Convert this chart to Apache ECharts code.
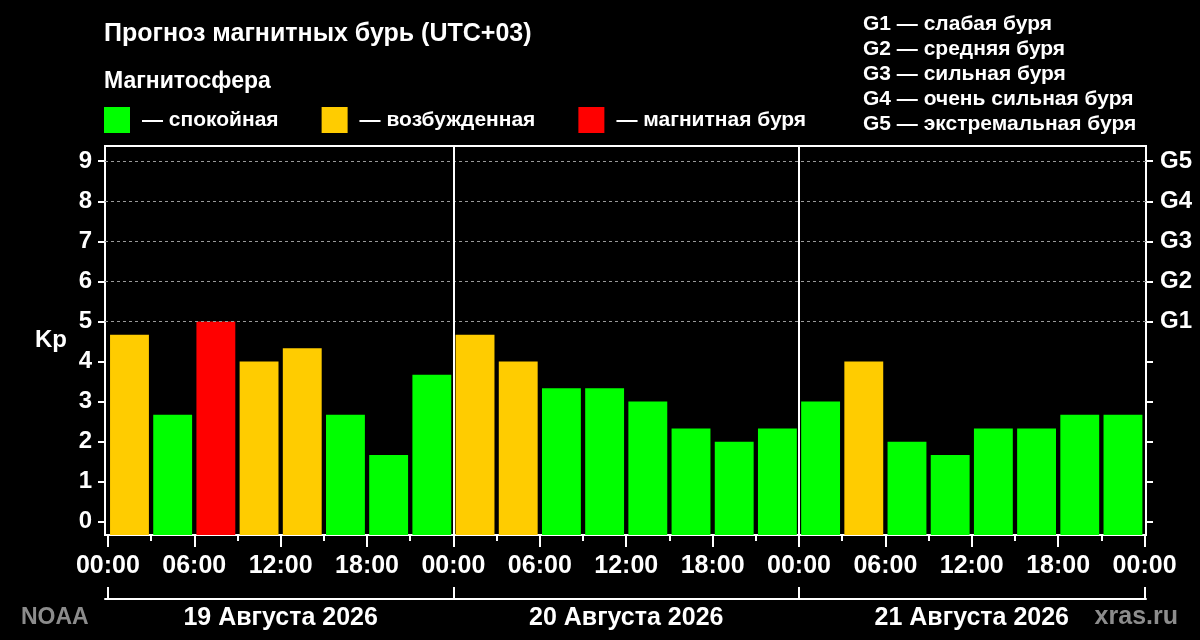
<!DOCTYPE html>
<html lang="ru">
<head>
<meta charset="utf-8">
<title>Прогноз магнитных бурь</title>
<script src="https://cdn.jsdelivr.net/npm/echarts@6/dist/echarts.min.js"></script>
<style>
* { margin: 0; padding: 0; }
body { background: #000; }
#chart-container { width: 1200px; height: 640px; }
</style>
</head>
<body>
<div id="chart-container"></div>
<script>
// Kp forecast, one value per 3-hour slot
var days = ['19 Августа 2026', '20 Августа 2026', '21 Августа 2026'];
var kpDay1 = [4.67, 2.67, 5, 4, 4.33, 2.67, 1.67, 3.67];
var kpDay2 = [4.67, 4, 3.33, 3.33, 3, 2.33, 2, 2.33];
var kpDay3 = [3, 4, 2, 1.67, 2.33, 2.33, 2.67, 2.67];

var levelNames = ['— спокойная', '— возбужденная', '— магнитная буря'];
var levelColors = ['#00ff00', '#ffcc00', '#ff0000'];
var stormNames = ['G1 — слабая буря', 'G2 — средняя буря', 'G3 — сильная буря',
                  'G4 — очень сильная буря', 'G5 — экстремальная буря'];

var kpTicks = [0, 1, 2, 3, 4, 5, 6, 7, 8, 9];
var stormKp = [5, 6, 7, 8, 9];
var hourTicks = [0, 6, 12, 18, 24, 30, 36, 42, 48, 54, 60, 66, 72];
var slotTicks = [0, 3, 6, 9, 12, 15, 18, 21, 24, 27, 30, 33, 36, 39, 42, 45, 48, 51, 54, 57, 60, 63, 66, 69, 72];
var dayBounds = [0, 24, 48, 72];
var dayMids = [12, 36, 60];

var Y_MIN = -0.33, Y_MAX = 9.38;
var X_MIN = -0.2, X_MAX = 72.1;
var FONT = "'Liberation Sans', Arial, sans-serif";

var allKp = kpDay1.concat(kpDay2, kpDay3);
function levelOf(kp) {
  return kp >= 5 ? 2 : (kp >= 4 ? 1 : 0);
}
var levelData = [[], [], []];
allKp.forEach(function (kp, i) {
  levelData[levelOf(kp)].push([i * 3, kp]);
});

function renderBar(params, api) {
  var start = api.value(0);
  var topLeft = api.coord([start + 0.15, api.value(1)]);
  var bottomRight = api.coord([start + 2.85, Y_MIN]);
  return {
    type: 'rect',
    shape: {
      x: topLeft[0], y: topLeft[1],
      width: bottomRight[0] - topLeft[0],
      height: bottomRight[1] - topLeft[1]
    },
    style: { fill: api.visual('color') }
  };
}

var series = levelNames.map(function (name, k) {
  return {
    type: 'custom',
    name: name,
    renderItem: renderBar,
    itemStyle: { color: levelColors[k] },
    encode: { x: 0, y: 1 },
    data: levelData[k],
    silent: true
  };
});

// dashed storm levels and day separators
series[0].markLine = {
  silent: true,
  symbol: 'none',
  label: { show: false },
  data: stormKp.map(function (v) {
    return { yAxis: v, lineStyle: { color: '#9a9a9a', type: [3, 3], width: 1 } };
  }).concat([24, 48].map(function (h) {
    return { xAxis: h, lineStyle: { color: '#fff', type: 'solid', width: 2 } };
  }))
};

function hourLabel(v) {
  var h = v % 24;
  return (h < 10 ? '0' : '') + h + ':00';
}

var labelStyle = { color: '#fff', fontFamily: FONT, fontWeight: 'bold', fontSize: 24 };
var bigLabel = { color: '#fff', fontFamily: FONT, fontWeight: 'bold', fontSize: 25 };
var whiteLine = { color: '#fff', width: 2 };

var myChart = echarts.init(document.getElementById('chart-container'));
myChart.setOption({
  backgroundColor: '#000',
  animation: false,
  grid: {
    left: 105, right: 54, top: 146, bottom: 105,
    show: true, borderColor: '#fff', borderWidth: 2
  },
  legend: {
    left: 104, top: 107, padding: 0,
    itemWidth: 26, itemHeight: 26, itemGap: 43,
    icon: 'rect',
    selectedMode: false,
    data: levelNames,
    textStyle: { color: '#fff', fontFamily: FONT, fontWeight: 'bold', fontSize: 21, padding: [1, 0, 0, 7] }
  },
  xAxis: [
    {
      type: 'value', min: X_MIN, max: X_MAX, position: 'bottom',
      axisLine: { show: true, onZero: false, lineStyle: whiteLine },
      axisTick: { show: true, customValues: slotTicks, length: 6, lineStyle: whiteLine },
      axisLabel: { show: false },
      splitLine: { show: false }
    },
    {
      type: 'value', min: X_MIN, max: X_MAX, position: 'bottom',
      axisLine: { show: false, onZero: false },
      axisTick: { show: true, customValues: hourTicks, length: 12, lineStyle: whiteLine },
      axisLabel: Object.assign({ customValues: hourTicks, formatter: hourLabel, margin: 19 }, bigLabel),
      splitLine: { show: false }
    },
    {
      type: 'value', min: X_MIN, max: X_MAX, position: 'bottom', offset: 64,
      axisLine: { show: true, onZero: false, lineStyle: whiteLine },
      axisTick: { show: true, inside: true, customValues: dayBounds, length: 12, lineStyle: whiteLine },
      axisLabel: Object.assign({
        customValues: dayMids,
        formatter: function (v) { return days[Math.round((v - 12) / 24)]; },
        margin: 7
      }, bigLabel),
      splitLine: { show: false }
    }
  ],
  yAxis: [
    {
      type: 'value', min: Y_MIN, max: Y_MAX, position: 'left',
      name: 'Kp', nameLocation: 'middle', nameRotate: 0, nameGap: 38,
      nameTextStyle: { color: '#fff', fontFamily: FONT, fontWeight: 'bold', fontSize: 24, padding: [6, 0, 0, 0] },
      axisLine: { show: true, onZero: false, lineStyle: whiteLine },
      axisTick: { show: true, customValues: kpTicks, length: 7, lineStyle: whiteLine },
      axisLabel: Object.assign({ customValues: kpTicks, margin: 13 }, labelStyle),
      splitLine: { show: false }
    },
    {
      type: 'value', min: Y_MIN, max: Y_MAX, position: 'right',
      axisLine: { show: true, onZero: false, lineStyle: whiteLine },
      axisTick: { show: true, customValues: kpTicks, length: 7, lineStyle: whiteLine },
      axisLabel: Object.assign({
        customValues: stormKp,
        formatter: function (v) { return 'G' + (v - 4); },
        margin: 14
      }, labelStyle),
      splitLine: { show: false }
    }
  ],
  graphic: [
    { type: 'text', left: 104, top: 22, style: { text: 'Прогноз магнитных бурь (UTC+03)', fill: '#fff', font: 'bold 25px ' + FONT } },
    { type: 'text', left: 104, top: 70, style: { text: 'Магнитосфера', fill: '#fff', font: 'bold 23px ' + FONT } },
    { type: 'text', left: 21, top: 606, style: { text: 'NOAA', fill: '#8c8c8c', font: 'bold 23px ' + FONT } },
    { type: 'text', right: 22, top: 605, style: { text: 'xras.ru', fill: '#8c8c8c', font: 'bold 25px ' + FONT } }
  ].concat(stormNames.map(function (t, i) {
    return { type: 'text', left: 863, top: 14 + i * 25, style: { text: t, fill: '#fff', font: 'bold 21px ' + FONT } };
  })),
  series: series
});
</script>
</body>
</html>
